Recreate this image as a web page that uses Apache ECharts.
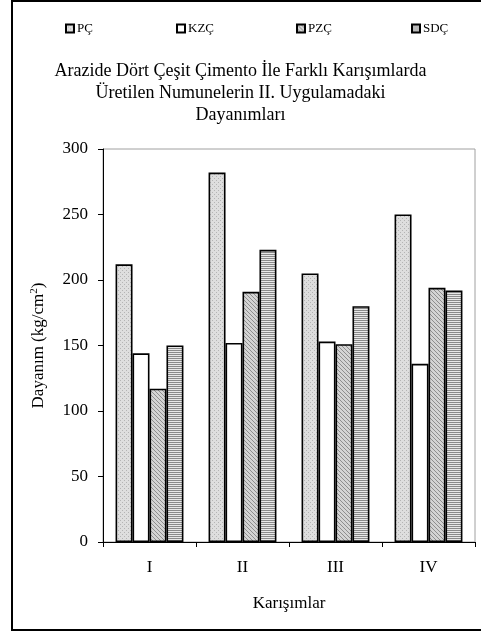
<!DOCTYPE html>
<html>
<head>
<meta charset="utf-8">
<script src="https://cdn.jsdelivr.net/npm/echarts@6/dist/echarts.min.js"></script>
<style>
  html, body { margin: 0; padding: 0; background: #fff; }
  #chart { width: 481px; height: 632px; }
</style>
</head>
<body>
<div id="chart"></div>
<script>
var categories = ['I', 'II', 'III', 'IV'];
var seriesNames = ['PÇ', 'KZÇ', 'PZÇ', 'SDÇ'];
var pcValues = [212, 282, 205, 250];
var kzcValues = [144, 152, 153, 136];
var pzcValues = [117, 191, 151, 194];
var sdcValues = [150, 223, 180, 192];
var titleLines = [
  'Arazide Dört Çeşit Çimento İle Farklı Karışımlarda',
  'Üretilen Numunelerin II. Uygulamadaki',
  'Dayanımları'
];

var font = 'Liberation Serif, Times New Roman, serif';

// little canvas tiles to imitate the excel fill patterns
function makePattern (w, h, bg, fg, pixels) {
  var c = document.createElement('canvas');
  c.width = w;
  c.height = h;
  var ctx = c.getContext('2d');
  ctx.fillStyle = bg;
  ctx.fillRect(0, 0, w, h);
  ctx.fillStyle = fg;
  pixels.forEach(function (p) {
    ctx.fillRect(p[0], p[1], 1, 1);
  });
  return { image: c, repeat: 'repeat' };
}

var fills = [
  makePattern(4, 4, '#dedede', '#b4b4b4', [[0, 0], [2, 2]]),
  '#ffffff',
  makePattern(4, 4, '#d4d4d4', '#8e8e8e', [[0, 0], [1, 1], [2, 2], [3, 3]]),
  makePattern(2, 2, '#e8e8e8', '#8a8a8a', [[0, 0], [1, 0]])
];
var valueArr = [pcValues, kzcValues, pzcValues, sdcValues];
var legendLeft = [60, 171, 291, 406];

var chart = echarts.init(document.getElementById('chart'));

var legends = seriesNames.map(function (name, i) {
  return {
    data: [name],
    left: legendLeft[i],
    top: 17,
    itemWidth: 8,
    itemHeight: 8,
    itemGap: 3,
    icon: 'rect',
    selectedMode: false,
    textStyle: { fontFamily: font, fontSize: 13, color: '#000', padding: [0, 0, 0, -2] }
  };
});

var series = seriesNames.map(function (name, i) {
  return {
    name: name,
    type: 'bar',
    barGap: '0%',
    barCategoryGap: '27%',
    itemStyle: {
      color: fills[i],
      borderColor: '#000',
      borderWidth: 1.6
    },
    emphasis: { disabled: true },
    data: valueArr[i]
  };
});

var option = {
  backgroundColor: '#fff',
  animation: false,
  title: {
    text: titleLines.join('\n'),
    left: 'center',
    top: 55,
    textStyle: {
      fontFamily: font,
      fontSize: 18,
      fontWeight: 'normal',
      color: '#000',
      lineHeight: 22
    }
  },
  legend: legends,
  grid: {
    left: 103,
    right: 6,
    top: 149,
    bottom: 90,
    show: true,
    borderColor: '#a0a0a0',
    borderWidth: 1
  },
  xAxis: {
    type: 'category',
    data: categories,
    name: 'Karışımlar',
    nameLocation: 'middle',
    nameGap: 53,
    nameTextStyle: { fontFamily: font, fontSize: 17, color: '#000' },
    axisLine: { lineStyle: { color: '#000', width: 1 } },
    axisTick: { show: true, length: 5, inside: false, lineStyle: { color: '#000' } },
    axisLabel: { fontFamily: font, fontSize: 17, color: '#000', margin: 17 }
  },
  yAxis: {
    type: 'value',
    min: 0,
    max: 300,
    interval: 50,
    name: 'Dayanım (kg/cm{sup|2})',
    nameLocation: 'middle',
    nameGap: 55,
    nameRotate: 90,
    nameTextStyle: {
      fontFamily: font,
      fontSize: 17,
      color: '#000',
      rich: {
        sup: { fontFamily: font, fontSize: 11, color: '#000', verticalAlign: 'top', padding: [0, 0, 8, 0] }
      }
    },
    axisLine: { show: true, lineStyle: { color: '#000', width: 1 } },
    axisTick: { show: true, length: 5, lineStyle: { color: '#000' } },
    axisLabel: { fontFamily: font, fontSize: 17, color: '#000', margin: 15 },
    splitLine: { show: false }
  },
  graphic: [{
    type: 'rect',
    shape: { x: 12, y: 1, width: 480, height: 629 },
    style: { fill: 'none', stroke: '#000', lineWidth: 2 },
    silent: true
  }],
  series: series
};

chart.setOption(option);
</script>
</body>
</html>
